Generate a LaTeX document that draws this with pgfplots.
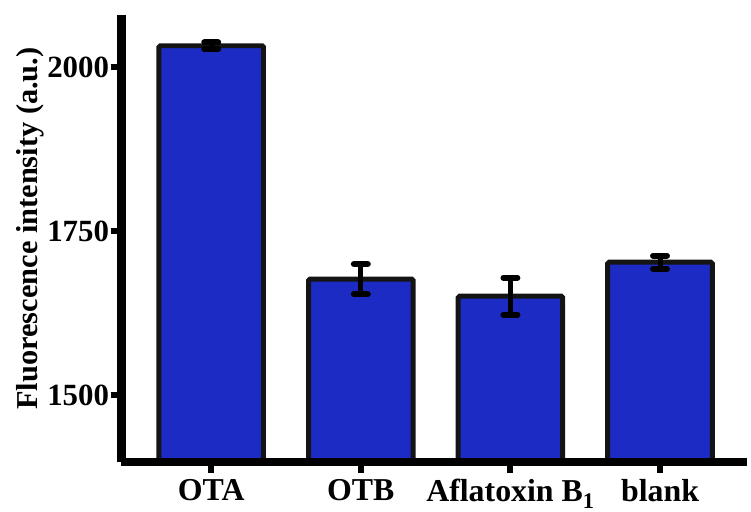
\documentclass[border=0pt]{standalone}
\usepackage{pgfplots}
\pgfplotsset{compat=1.18}
\usepackage{fontspec}
\setmainfont{Liberation Serif}
\definecolor{barblue}{RGB}{27,43,196}
\begin{document}
\begin{tikzpicture}
\begin{axis}[
  name=ax,
  scale only axis,
  width=628pt, height=449pt,
  xmin=-0.6, xmax=3.58,
  ymin=1398, ymax=2080,
  axis x line*=bottom, axis y line*=left,
  axis on top,
  every outer x axis line/.append style={line width=8.5pt, line cap=butt},
  every outer y axis line/.append style={line width=8.5pt, line cap=butt},
  x axis line style={line width=8.5pt},
  y axis line style={line width=8.5pt},
  xtick={0,1,2,3},
  xticklabels={OTA, OTB, Aflatoxin B\textsubscript{1}, blank},
  ytick={1500,1750,2000},
  tick align=outside,
  major tick length=11pt,
  every tick/.style={line width=6pt, black},
  xtick style={line width=6pt, black},
  ytick style={line width=6pt, black},
  /pgf/number format/assume math mode=true,
  /pgf/number format/1000 sep={},
  yticklabel style={font=\fontsize{31}{33}\selectfont\bfseries, xshift=2pt},
  xticklabel style={font=\fontsize{32}{34}\selectfont\bfseries, yshift=-3pt},
  ylabel={Fluorescence intensity (a.u.)},
  ylabel style={font=\fontsize{30.5}{32}\selectfont\bfseries, yshift=-4pt, xshift=10pt},
  clip=false,
]
\addplot[ybar, bar width=105pt, fill=barblue, draw=black!92, line width=5pt, rounded corners=1.5pt,
  error bars/.cd, y dir=both, y explicit,
  error bar style={line width=5pt, black},
  error mark options={rotate=90, mark size=7pt, line width=6pt, line cap=round, black}]
coordinates {
  (0,2033) +- (0,5)
  (1,1677) +- (0,23)
  (2,1651) +- (0,28)
  (3,1703) +- (0,10)
};
\end{axis}
\path (ax.south west) ++(-122pt,0pt);
\path (ax.north west) ++(0pt,15pt);
\end{tikzpicture}
\end{document}
